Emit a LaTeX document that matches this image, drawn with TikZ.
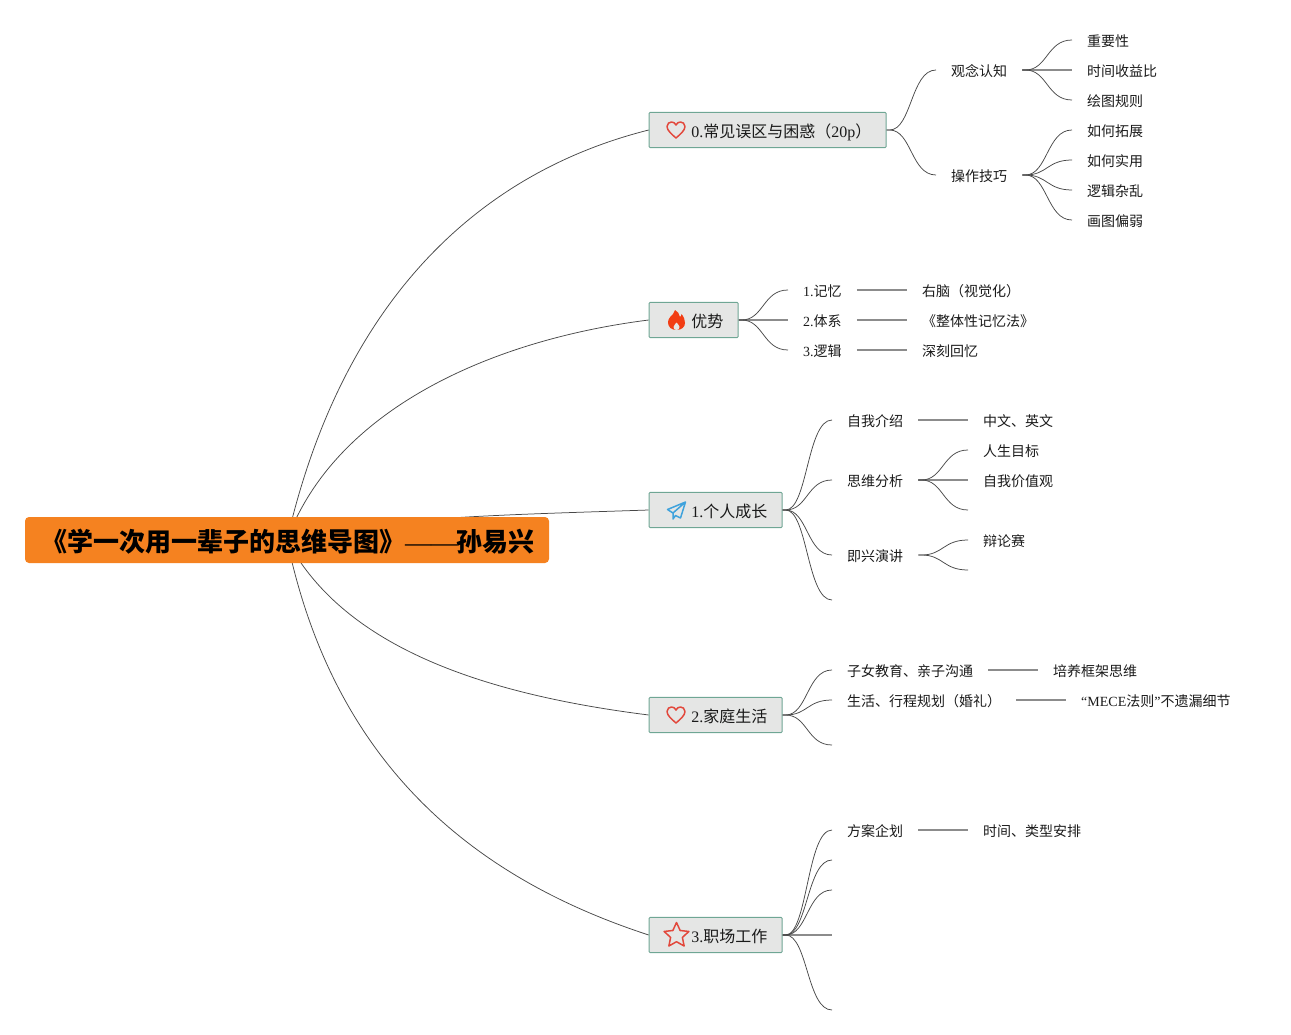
\documentclass[tikz,border=0pt]{standalone}
\usepackage{fontspec}
\setmainfont{Noto Sans CJK SC}
\newfontfamily\lat{Liberation Serif}
\usetikzlibrary{shapes.geometric,backgrounds}
\definecolor{ink}{HTML}{1A1A1A}
\definecolor{linkc}{HTML}{484848}
\definecolor{flatc}{HTML}{8C8C8C}
\definecolor{rootc}{HTML}{F58220}
\definecolor{topicf}{HTML}{E5E6E5}
\definecolor{topicd}{HTML}{6FA694}
\definecolor{redi}{HTML}{E2483C}
\definecolor{flamec}{HTML}{F23D14}
\definecolor{bluei}{HTML}{3FA2DC}
\tikzset{
  link/.style={draw=linkc,line width=0.75pt},
  flatlink/.style={draw=flatc,line width=1.5pt},
  rootbox/.style={rectangle,rounded corners=4pt,fill=rootc,text=black,minimum width=524pt,minimum height=46pt,inner sep=0pt,
    font=\fontsize{26}{28}\selectfont\bfseries,text height=27pt,text depth=4pt},
  topic/.style={rectangle,rounded corners=1pt,fill=topicf,draw=topicd,line width=0.9pt,text=ink,minimum height=35.2pt,inner sep=0pt,
    align=left,font=\fontsize{16}{18}\selectfont,text height=16pt,text depth=1.8pt,anchor=west},
  leaf/.style={text=ink,inner xsep=15pt,inner ysep=0pt,anchor=west,font=\fontsize{14}{16}\selectfont,text height=14pt,text depth=1.4pt},
  iconline/.style={line join=round,line cap=round},
}
\newcommand{\conn}[2]{\draw[link] (#1) -- ++(3,0) .. controls +(22,0) and +(-25,0) .. (#2);}
\newcommand{\heartat}[1]{\draw[iconline,shift={(#1)},draw=redi,line width=1.5pt]
  (0,8) .. controls (-4,4.5) and (-9,0.5) .. (-9,-3.5) .. controls (-9,-6.5) and (-6.5,-8) .. (-4.5,-8)
  .. controls (-2.5,-8) and (-1,-7) .. (0,-5) .. controls (1,-7) and (2.5,-8) .. (4.5,-8)
  .. controls (6.5,-8) and (9,-6.5) .. (9,-3.5) .. controls (9,0.5) and (4,4.5) .. (0,8) -- cycle;}
\begin{document}
\begin{tikzpicture}[x=1pt,y=-1pt]
\useasboundingbox (0,0) rectangle (1291,1035);
% root
\node[rootbox] (root) at (287,540) {\hspace*{2pt}《学一次用一辈子的思维导图》{\lat\mdseries ——}孙易兴};
% topics
\node[topic,minimum width=237pt,text width=237pt] (t0) at (648.7,130) {\hspace*{42.3pt}{\lat 0.}常见误区与困惑（{\lat 20p}）};
\node[topic,minimum width=89pt,text width=89pt] (t1) at (648.7,320) {\hspace*{42.3pt}优势};
\node[topic,minimum width=133pt,text width=133pt] (t2) at (648.7,510) {\hspace*{42.3pt}{\lat 1.}个人成长};
\node[topic,minimum width=133pt,text width=133pt] (t3) at (648.7,715) {\hspace*{42.3pt}{\lat 2.}家庭生活};
\node[topic,minimum width=133pt,text width=133pt] (t4) at (648.7,935) {\hspace*{42.3pt}{\lat 3.}职场工作};
% root links, behind the root box
\begin{pgfonlayer}{background}
\draw[link] (root.center) .. controls (340,310) and (470,175) .. (t0.west);
\draw[link] (root.center) .. controls (335,410) and (490,340) .. (t1.west);
\draw[link] (root.center) .. controls (380,517) and (500,515) .. (t2.west);
\draw[link] (root.center) .. controls (345,650) and (490,695) .. (t3.west);
\draw[link] (root.center) .. controls (335,770) and (480,880) .. (t4.west);
\end{pgfonlayer}
% icons
\heartat{676,130}
\heartat{676,715}
\fill[flamec,shift={(676.5,320)}] (0,10) .. controls (-5,10) and (-8.5,7) .. (-8.5,2.5) .. controls (-8.5,-2) and (-5,-4) .. (-3.5,-6)
  .. controls (-2.5,-7.5) and (-2,-9) .. (-1.5,-10) .. controls (1,-9) and (3,-6) .. (3.5,-3) .. controls (4.5,-3.5) and (5,-5) .. (5,-6)
  .. controls (7.5,-3) and (8.5,0) .. (8.5,3) .. controls (8.5,7) and (5,10) .. (0,10) -- cycle;
\fill[topicf,shift={(676.5,320)}] (0,10.2) .. controls (-2,10) and (-3,8.5) .. (-3,7) .. controls (-3,5.5) and (-1,4) .. (0,2.5)
  .. controls (1,4) and (3,5.5) .. (3,7) .. controls (3,8.5) and (2,10) .. (0,10.2) -- cycle;
\draw[iconline,shift={(676.5,511)},draw=bluei,line width=1.5pt] (9,-9) -- (-9,-1.5) -- (-3.5,2) -- (9,-9) -- (4,7) -- (-1,4.5) -- (-3.5,8) -- (-3.5,2);
\node[star,star points=5,star point ratio=2.1,draw=redi,line width=1.5pt,line join=round,minimum size=26pt,inner sep=0pt] (staricon) at (676.5,935.5) {};
% branch 0
\node[leaf] (a1) at (936,70) {观念认知};
\node[leaf] (a2) at (936,175) {操作技巧};
\node[leaf] (a11) at (1072,40) {重要性};
\node[leaf] (a12) at (1072,70) {时间收益比};
\node[leaf] (a13) at (1072,100) {绘图规则};
\node[leaf] (a21) at (1072,130) {如何拓展};
\node[leaf] (a22) at (1072,160) {如何实用};
\node[leaf] (a23) at (1072,190) {逻辑杂乱};
\node[leaf] (a24) at (1072,220) {画图偏弱};
\conn{t0.east}{a1.west}\conn{t0.east}{a2.west}
\draw[flatlink] (a1.east) -- (a12.west);
\conn{a1.east}{a11.west}\conn{a1.east}{a13.west}
\conn{a2.east}{a21.west}\conn{a2.east}{a22.west}\conn{a2.east}{a23.west}\conn{a2.east}{a24.west}
% branch 1
\node[leaf] (b1) at (788,290) {{\lat 1.}记忆};
\node[leaf] (b2) at (788,320) {{\lat 2.}体系};
\node[leaf] (b3) at (788,350) {{\lat 3.}逻辑};
\node[leaf] (b11) at (907,290) {右脑（视觉化）};
\node[leaf] (b21) at (907,320) {《整体性记忆法》};
\node[leaf] (b31) at (907,350) {深刻回忆};
\draw[flatlink] (t1.east) -- (b2.west);
\conn{t1.east}{b1.west}\conn{t1.east}{b3.west}
\draw[flatlink] (b1.east) -- (b11.west);
\draw[flatlink] (b2.east) -- (b21.west);
\draw[flatlink] (b3.east) -- (b31.west);
% branch 2
\node[leaf] (c1) at (832,420) {自我介绍};
\node[leaf] (c2) at (832,480) {思维分析};
\node[leaf] (c3) at (832,555) {即兴演讲};
\coordinate (c4) at (832,600);
\node[leaf] (c11) at (968,420) {中文、英文};
\node[leaf] (c21) at (968,450) {人生目标};
\node[leaf] (c22) at (968,480) {自我价值观};
\coordinate (c23) at (968,510);
\node[leaf] (c31) at (968,540) {辩论赛};
\coordinate (c32) at (968,570);
\conn{t2.east}{c1.west}\conn{t2.east}{c2.west}\conn{t2.east}{c3.west}\conn{t2.east}{c4}
\draw[flatlink] (c1.east) -- (c11.west);
\draw[flatlink] (c2.east) -- (c22.west);
\conn{c2.east}{c21.west}\conn{c2.east}{c23}
\conn{c3.east}{c31.west}\conn{c3.east}{c32}
% branch 3
\node[leaf] (d1) at (832,670) {子女教育、亲子沟通};
\node[leaf] (d2) at (832,700) {生活、行程规划（婚礼）};
\coordinate (d3) at (832,745);
\node[leaf] (d11) at (1038,670) {培养框架思维};
\node[leaf] (d21) at (1066,700) {{\lat “MECE}法则{\lat ”}不遗漏细节};
\conn{t3.east}{d1.west}\conn{t3.east}{d2.west}\conn{t3.east}{d3}
\draw[flatlink] (d1.east) -- (d11.west);
\draw[flatlink] (d2.east) -- (d21.west);
% branch 4
\node[leaf] (e1) at (832,830) {方案企划};
\coordinate (e2) at (832,860);
\coordinate (e3) at (832,890);
\coordinate (e4) at (832,935);
\coordinate (e5) at (832,1010);
\node[leaf] (e11) at (968,830) {时间、类型安排};
\draw[flatlink] (t4.east) -- (e4);
\conn{t4.east}{e1.west}\conn{t4.east}{e2}\conn{t4.east}{e3}\conn{t4.east}{e5}
\draw[flatlink] (e1.east) -- (e11.west);
\end{tikzpicture}
\end{document}
